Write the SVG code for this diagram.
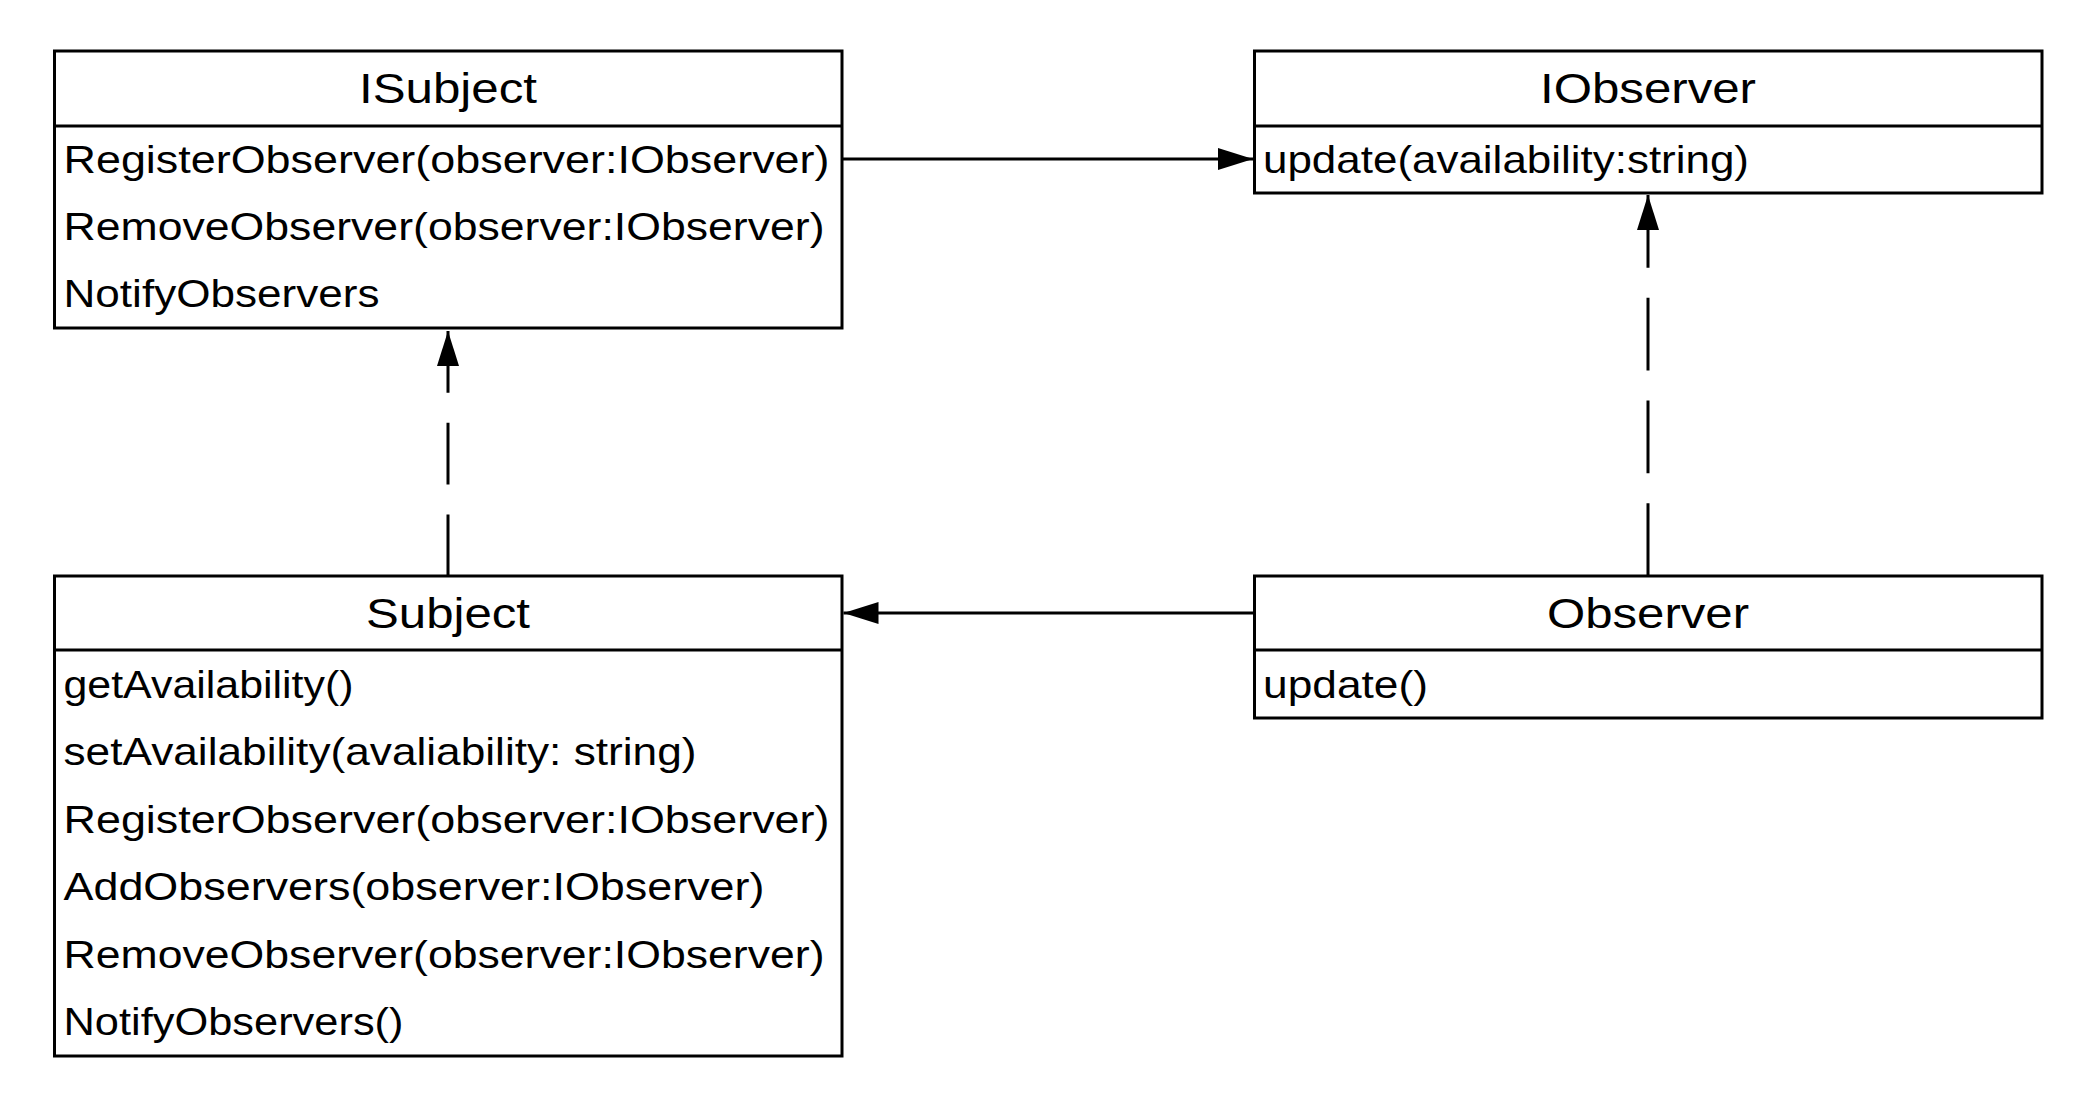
<svg xmlns="http://www.w3.org/2000/svg" width="2100" height="1110" viewBox="0 0 2100 1110">
<style>
.box{fill:#fff;stroke:#000;stroke-width:3}
.div{stroke:#000;stroke-width:3}
.hd{font-family:"Liberation Sans",Arial,sans-serif;font-size:42px;fill:#000;text-anchor:middle}
.rw{font-family:"Liberation Sans",Arial,sans-serif;font-size:39px;fill:#000}
.ln{fill:none;stroke:#000;stroke-width:3}
.head{fill:#000;stroke:none}
</style>
<defs>
<marker id="arr" markerUnits="userSpaceOnUse" markerWidth="36" markerHeight="24" refX="35" refY="11" orient="auto" viewBox="0 0 36 24">
<path d="M0,0 L35,11 L0,22 z" fill="#000" stroke="none"/>
</marker>
</defs>
<rect width="2100" height="1110" fill="#fff"/>
<g id="connectors">
<path class="ln" d="M842,159 L1253,159" marker-end="url(#arr)"/>
<path class="ln" d="M1254.5,613 L843.5,613" marker-end="url(#arr)"/>
<path class="ln" d="M448,331 L448,576" stroke-dasharray="61.7 30"/>
<path class="head" d="M448,331 L437,366 L459,366 z"/>
<path class="ln" d="M1648,195 L1648,576" stroke-dasharray="72.75 30"/>
<path class="head" d="M1648,195 L1637,230 L1659,230 z"/>
</g>
<g id="ISubject">
<rect class="box" x="54.5" y="51" width="787.5" height="277"/>
<line class="div" x1="54.5" y1="126" x2="842" y2="126"/>
<text class="hd" x="448" y="103" textLength="178" lengthAdjust="spacingAndGlyphs">ISubject</text>
<text class="rw" x="63.5" y="173" textLength="766" lengthAdjust="spacingAndGlyphs">RegisterObserver(observer:IObserver)</text>
<text class="rw" x="63.5" y="240" textLength="761" lengthAdjust="spacingAndGlyphs">RemoveObserver(observer:IObserver)</text>
<text class="rw" x="63.5" y="307" textLength="316" lengthAdjust="spacingAndGlyphs">NotifyObservers</text>
</g>
<g id="IObserver">
<rect class="box" x="1254.5" y="51" width="787.5" height="142"/>
<line class="div" x1="1254.5" y1="126" x2="2042" y2="126"/>
<text class="hd" x="1648" y="103" textLength="216" lengthAdjust="spacingAndGlyphs">IObserver</text>
<text class="rw" x="1263" y="173" textLength="486" lengthAdjust="spacingAndGlyphs">update(availability:string)</text>
</g>
<g id="Subject">
<rect class="box" x="54.5" y="576" width="787.5" height="480"/>
<line class="div" x1="54.5" y1="650" x2="842" y2="650"/>
<text class="hd" x="448" y="628" textLength="164" lengthAdjust="spacingAndGlyphs">Subject</text>
<text class="rw" x="63.5" y="698" textLength="290" lengthAdjust="spacingAndGlyphs">getAvailability()</text>
<text class="rw" x="63.5" y="765" textLength="633" lengthAdjust="spacingAndGlyphs">setAvailability(avaliability: string)</text>
<text class="rw" x="63.5" y="833" textLength="766" lengthAdjust="spacingAndGlyphs">RegisterObserver(observer:IObserver)</text>
<text class="rw" x="63.5" y="900" textLength="701" lengthAdjust="spacingAndGlyphs">AddObservers(observer:IObserver)</text>
<text class="rw" x="63.5" y="968" textLength="761" lengthAdjust="spacingAndGlyphs">RemoveObserver(observer:IObserver)</text>
<text class="rw" x="63.5" y="1035" textLength="340" lengthAdjust="spacingAndGlyphs">NotifyObservers()</text>
</g>
<g id="Observer">
<rect class="box" x="1254.5" y="576" width="787.5" height="142"/>
<line class="div" x1="1254.5" y1="650" x2="2042" y2="650"/>
<text class="hd" x="1648" y="628" textLength="202" lengthAdjust="spacingAndGlyphs">Observer</text>
<text class="rw" x="1263" y="698" textLength="165" lengthAdjust="spacingAndGlyphs">update()</text>
</g>
</svg>
